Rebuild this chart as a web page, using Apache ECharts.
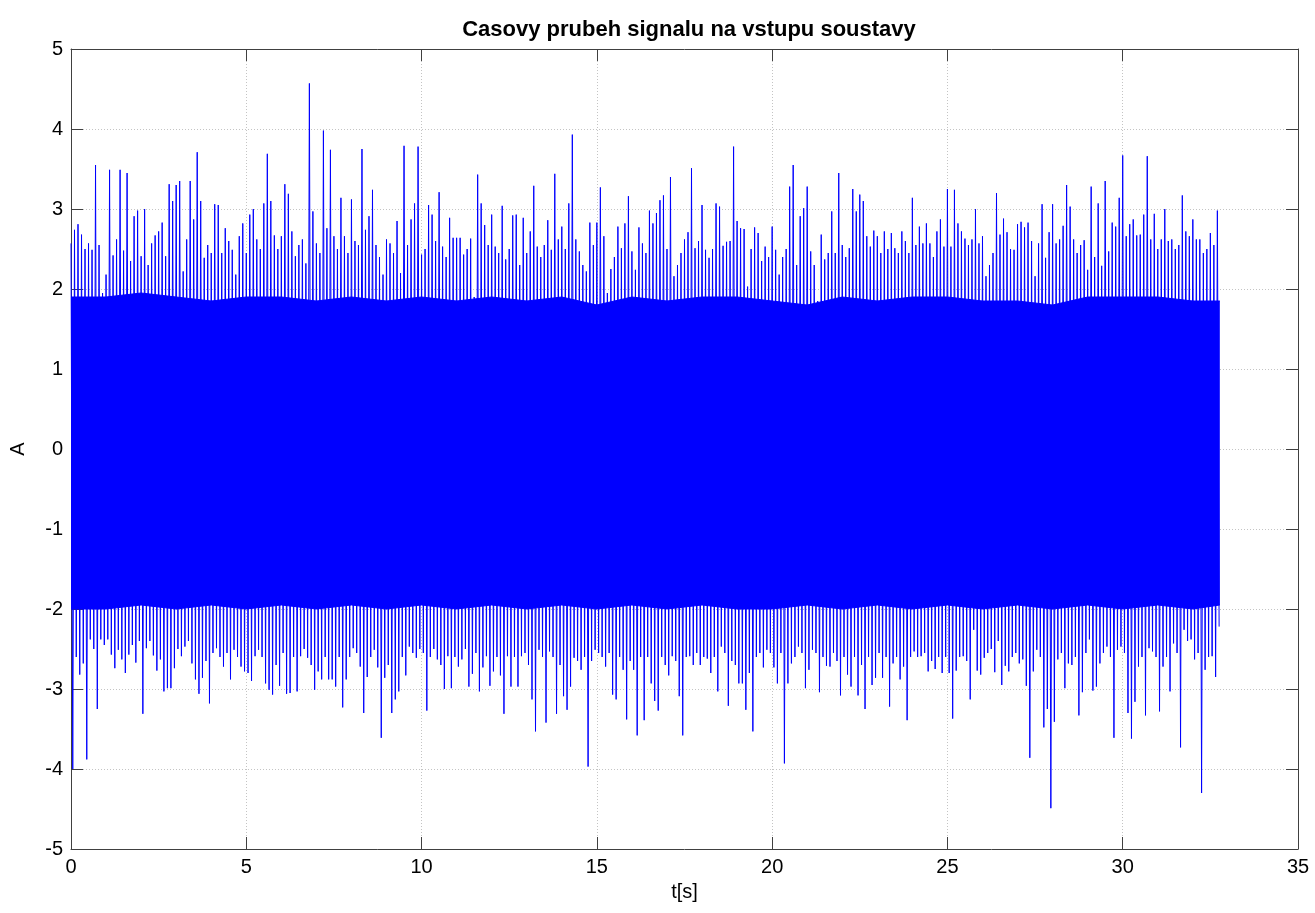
<!DOCTYPE html>
<html>
<head>
<meta charset="utf-8">
<script src="https://cdn.jsdelivr.net/npm/echarts@6/dist/echarts.min.js"></script>
<style>
html,body{margin:0;padding:0;background:#fff;}
#chart{width:1315px;height:913px;}
</style>
</head>
<body>
<div id="chart"></div>
<script>
// Signal envelope: per 0.1 s bin, the highest and lowest excursion.
var binStart = 0;
var binStep = 0.1;
var upperPeaks = [
2.57,2.74,2.81,2.68,2.50,2.57,2.49,3.55,2.55,1.95,
2.18,3.49,2.42,2.62,3.49,2.48,3.45,2.35,2.91,2.98,
2.41,3.00,2.30,2.57,2.67,2.72,2.83,2.41,3.31,3.10,
3.30,3.35,2.22,2.62,3.35,2.87,3.71,3.10,2.39,2.55,
2.45,3.06,3.05,2.45,2.76,2.60,2.49,2.18,2.66,2.82,
2.45,2.93,3.00,2.62,2.50,3.07,
3.69,3.10,2.67,2.50,2.66,3.31,3.19,2.72,2.41,2.55,
2.62,2.32,4.57,2.97,2.57,2.45,3.98,2.76,3.74,2.66,
2.50,3.14,2.66,2.45,3.12,2.60,2.55,3.75,2.74,2.91,
3.24,2.55,2.40,2.18,2.62,2.57,2.45,2.85,2.20,3.79,
2.55,2.87,3.07,3.78,2.43,2.50,3.05,2.93,2.60,3.21,
2.53,2.40,2.89,2.64,
2.64,2.64,2.43,2.50,2.63,1.90,3.43,3.07,2.80,2.55,
2.93,2.53,2.45,3.04,2.37,2.50,2.92,2.93,2.30,2.89,
2.45,2.72,3.29,2.53,2.40,2.55,2.86,2.49,3.44,2.62,
2.78,2.50,3.07,3.93,2.62,2.47,2.30,2.22,2.83,2.55,
2.83,3.27,2.66,1.95,2.25,2.40,2.78,2.51,2.82,3.16,
2.47,2.24,2.77,2.57,2.45,2.98,2.82,2.95,3.11,3.17,
2.50,3.40,2.16,2.30,2.45,2.62,2.71,3.51,2.51,2.60,
3.05,2.49,2.39,2.50,
3.07,3.03,2.54,2.59,2.60,3.78,2.85,2.76,2.75,2.03,
2.50,2.77,2.70,2.35,2.53,2.40,2.78,2.49,2.18,2.40,
2.50,3.28,3.55,2.30,2.91,3.01,3.28,2.47,2.30,1.85,
2.68,2.37,2.45,2.97,2.45,3.45,2.55,2.40,2.51,3.25,
2.97,3.18,3.10,2.66,2.53,2.73,2.66,2.45,2.72,2.50,
2.70,2.51,2.45,2.72,2.60,2.45,3.14,2.55,2.78,2.57,
2.82,2.57,2.40,2.72,2.87,2.53,3.25,2.53,3.24,2.82,
2.72,2.63,2.55,
2.62,3.00,2.57,2.66,2.16,2.30,2.45,3.20,2.68,2.88,
2.71,2.50,2.49,2.81,2.84,2.77,2.83,2.60,2.16,2.57,
3.06,2.39,2.71,3.06,2.57,2.62,2.79,3.30,3.03,2.62,
2.45,2.55,2.61,2.24,3.28,2.40,3.07,2.29,3.35,2.47,
2.83,2.78,3.14,3.67,2.66,2.81,2.87,2.67,2.68,2.93,
3.66,2.62,2.94,2.50,2.62,3.00,2.60,2.62,2.50,2.55,
3.17,2.72,2.66,2.87,2.62,2.62,2.45,2.50,2.70,2.55,
2.98
];
var lowerPeaks = [
-4.00,-2.60,-2.82,-2.68,-3.88,-2.38,-2.50,-3.25,-2.38,-2.45,
-2.38,-2.57,-2.74,-2.51,-2.63,-2.80,-2.57,-2.45,-2.67,-2.40,
-3.31,-2.49,-2.40,-2.58,-2.77,-2.63,-3.03,-2.99,-2.99,-2.74,
-2.50,-2.59,-2.47,-2.40,-2.68,-2.88,-3.06,-2.86,-2.65,-3.18,
-2.55,-2.49,-2.60,-2.72,-2.55,-2.88,-2.51,-2.60,-2.72,-2.78,
-2.80,-2.90,-2.59,-2.51,-2.60,-2.93,
-3.01,-3.07,-2.70,-2.96,-2.55,-3.06,-3.05,-2.60,-3.03,-2.59,
-2.50,-2.61,-2.70,-3.01,-2.78,-2.88,-2.60,-2.88,-2.88,-2.97,
-2.60,-3.23,-2.88,-2.60,-2.49,-2.55,-2.72,-3.30,-2.85,-2.60,
-2.51,-2.73,-3.61,-2.86,-2.70,-3.30,-3.13,-3.03,-2.60,-2.83,
-2.47,-2.55,-2.61,-2.50,-2.55,-3.27,-2.60,-2.50,-2.63,-2.70,
-3.00,-2.59,-2.99,-2.60,
-2.72,-2.63,-2.50,-2.97,-2.81,-2.55,-3.03,-2.73,-2.59,-2.96,
-2.78,-2.60,-2.83,-3.31,-2.59,-2.97,-2.60,-2.97,-2.59,-2.55,
-2.70,-3.13,-3.53,-2.51,-2.60,-3.42,-2.53,-2.60,-3.31,-2.70,
-3.09,-3.26,-2.97,-2.61,-2.65,-2.76,-2.60,-3.97,-2.65,-2.51,
-2.55,-2.60,-2.72,-2.55,-3.07,-3.13,-2.60,-2.76,-3.38,-2.65,
-2.76,-3.58,-2.60,-3.39,-2.60,-2.93,-3.15,-3.27,-2.60,-2.70,
-2.83,-2.59,-2.65,-3.09,-3.58,-2.60,-2.59,-2.70,-2.55,-2.70,
-2.60,-2.62,-2.80,-2.60,
-3.03,-2.47,-2.55,-3.21,-2.65,-2.70,-2.93,-2.93,-3.26,-2.80,
-3.53,-2.60,-2.55,-2.73,-2.51,-2.55,-2.73,-2.93,-2.55,-3.93,
-2.93,-2.68,-2.60,-2.47,-2.55,-2.99,-2.76,-2.51,-2.55,-3.04,
-2.60,-2.71,-2.72,-2.55,-2.65,-3.08,-2.60,-2.82,-2.97,-2.60,
-3.08,-2.70,-3.25,-2.60,-2.95,-2.86,-2.55,-2.86,-2.60,-3.22,
-2.68,-2.60,-2.88,-2.72,-3.39,-2.60,-2.53,-2.60,-2.59,-2.55,
-2.78,-2.65,-2.75,-2.60,-2.80,-2.60,-2.80,-3.37,-2.77,-2.60,
-2.59,-2.65,-3.13,
-2.26,-2.77,-2.82,-2.61,-2.55,-2.50,-2.79,-2.40,-2.95,-2.71,
-2.78,-2.60,-2.55,-2.68,-2.63,-2.96,-3.86,-2.78,-2.51,-2.60,
-3.48,-3.25,-4.49,-3.41,-2.63,-2.55,-2.99,-2.68,-2.70,-2.60,
-3.33,-3.04,-2.55,-2.38,-3.02,-2.97,-2.68,-2.55,-2.47,-2.60,
-3.61,-2.51,-2.47,-2.55,-3.30,-3.62,-3.16,-2.72,-2.60,-3.33,
-2.49,-2.53,-2.60,-3.28,-2.72,-2.60,-3.03,-2.43,-2.55,-3.73,
-2.26,-2.40,-2.38,-2.63,-2.55,-4.30,-2.76,-2.60,-2.59,-2.85,
-2.22
];
// Dense solid core of the signal (edge of the mostly filled band), per second.
var coreTimes = [0,1,2,3,4,5,6,7,8,9,10,11,12,13,14,15,16,17,18,19,20,21,22,23,24,25,26,27,28,29,30,31,32,32.77];
var coreUpper = [1.9,1.9,1.95,1.9,1.85,1.9,1.9,1.85,1.9,1.85,1.9,1.85,1.9,1.85,1.9,1.8,1.9,1.85,1.9,1.9,1.85,1.8,1.9,1.85,1.9,1.9,1.85,1.85,1.8,1.9,1.9,1.9,1.85,1.85];
var coreLower = [-2.0,-2.0,-1.95,-2.0,-1.95,-2.0,-1.95,-2.0,-1.95,-2.0,-1.95,-2.0,-1.95,-2.0,-1.95,-2.0,-1.95,-2.0,-1.95,-2.0,-2.0,-1.95,-2.0,-1.95,-2.0,-1.95,-2.0,-1.95,-2.0,-1.95,-2.0,-1.95,-2.0,-1.95];
var xTicks = {min: 0, max: 35, interval: 5};
var yTicks = {min: -5, max: 5, interval: 1};
var titleText = 'Casovy prubeh signalu na vstupu soustavy';
var xLabel = 't[s]';
var yLabel = 'A';

var zig = [];
for (var i = 0; i < upperPeaks.length; i++) {
  var t = binStart + i * binStep;
  zig.push([+(t).toFixed(3), upperPeaks[i]]);
  zig.push([+(t + binStep / 2).toFixed(3), lowerPeaks[i]]);
}
var coreUp = coreTimes.map(function (t, k) { return [t, coreUpper[k]]; });
var coreLo = coreTimes.map(function (t, k) { return [t, coreLower[k]]; });

var FONT = '"Liberation Sans", Arial, Helvetica, sans-serif';
var blue = '#0000ff';
var axisColor = '#404040';
var gridStyle = {color: '#c4c4c4', width: 1, type: [1, 2]};

var chart = echarts.init(document.getElementById('chart'), null, {renderer: 'canvas'});
chart.setOption({
  animation: false,
  backgroundColor: '#ffffff',
  textStyle: {fontFamily: FONT},
  title: {
    text: titleText,
    left: 684,
    textAlign: 'center',
    top: 14,
    textStyle: {fontFamily: FONT, fontSize: 22, fontWeight: 'bold', color: '#000'}
  },
  grid: {left: 71, right: 17, top: 49, bottom: 64, containLabel: false},
  xAxis: [{
    type: 'value', min: xTicks.min, max: xTicks.max, interval: xTicks.interval, position: 'bottom',
    name: xLabel, nameLocation: 'middle', nameGap: 33,
    nameTextStyle: {fontFamily: FONT, fontSize: 20, color: '#000'},
    axisLine: {show: true, onZero: false, lineStyle: {color: axisColor, width: 1}},
    axisTick: {show: true, inside: true, length: 12, lineStyle: {color: axisColor}},
    axisLabel: {fontFamily: FONT, fontSize: 20, color: '#000', margin: 8},
    splitLine: {show: true, lineStyle: gridStyle}
  }, {
    type: 'value', min: xTicks.min, max: xTicks.max, interval: xTicks.interval, position: 'top',
    axisLine: {show: true, onZero: false, lineStyle: {color: axisColor, width: 1}},
    axisTick: {show: true, inside: true, length: 12, lineStyle: {color: axisColor}},
    axisLabel: {show: false},
    splitLine: {show: false}
  }],
  yAxis: [{
    type: 'value', min: yTicks.min, max: yTicks.max, interval: yTicks.interval, position: 'left',
    name: yLabel, nameLocation: 'middle', nameGap: 43, nameRotate: 90,
    nameTextStyle: {fontFamily: FONT, fontSize: 20, color: '#000'},
    axisLine: {show: true, onZero: false, lineStyle: {color: axisColor, width: 1}},
    axisTick: {show: true, inside: true, length: 12, lineStyle: {color: axisColor}},
    axisLabel: {fontFamily: FONT, fontSize: 20, color: '#000', margin: 8},
    splitLine: {show: true, lineStyle: gridStyle}
  }, {
    type: 'value', min: yTicks.min, max: yTicks.max, interval: yTicks.interval, position: 'right',
    axisLine: {show: true, onZero: false, lineStyle: {color: axisColor, width: 1}},
    axisTick: {show: true, inside: true, length: 12, lineStyle: {color: axisColor}},
    axisLabel: {show: false},
    splitLine: {show: false}
  }],
  series: [{
    name: 'core+', type: 'line', data: coreUp, xAxisIndex: 0, yAxisIndex: 0,
    showSymbol: false, symbol: 'none', lineStyle: {color: blue, width: 1},
    areaStyle: {color: blue, opacity: 1}, z: 2, silent: true
  }, {
    name: 'core-', type: 'line', data: coreLo, xAxisIndex: 0, yAxisIndex: 0,
    showSymbol: false, symbol: 'none', lineStyle: {color: blue, width: 1},
    areaStyle: {color: blue, opacity: 1}, z: 2, silent: true
  }, {
    name: 'signal', type: 'line', data: zig, xAxisIndex: 0, yAxisIndex: 0,
    showSymbol: false, symbol: 'none', sampling: 'none', large: false,
    lineStyle: {color: blue, width: 1}, z: 3, silent: true
  }]
});
</script>
</body>
</html>
